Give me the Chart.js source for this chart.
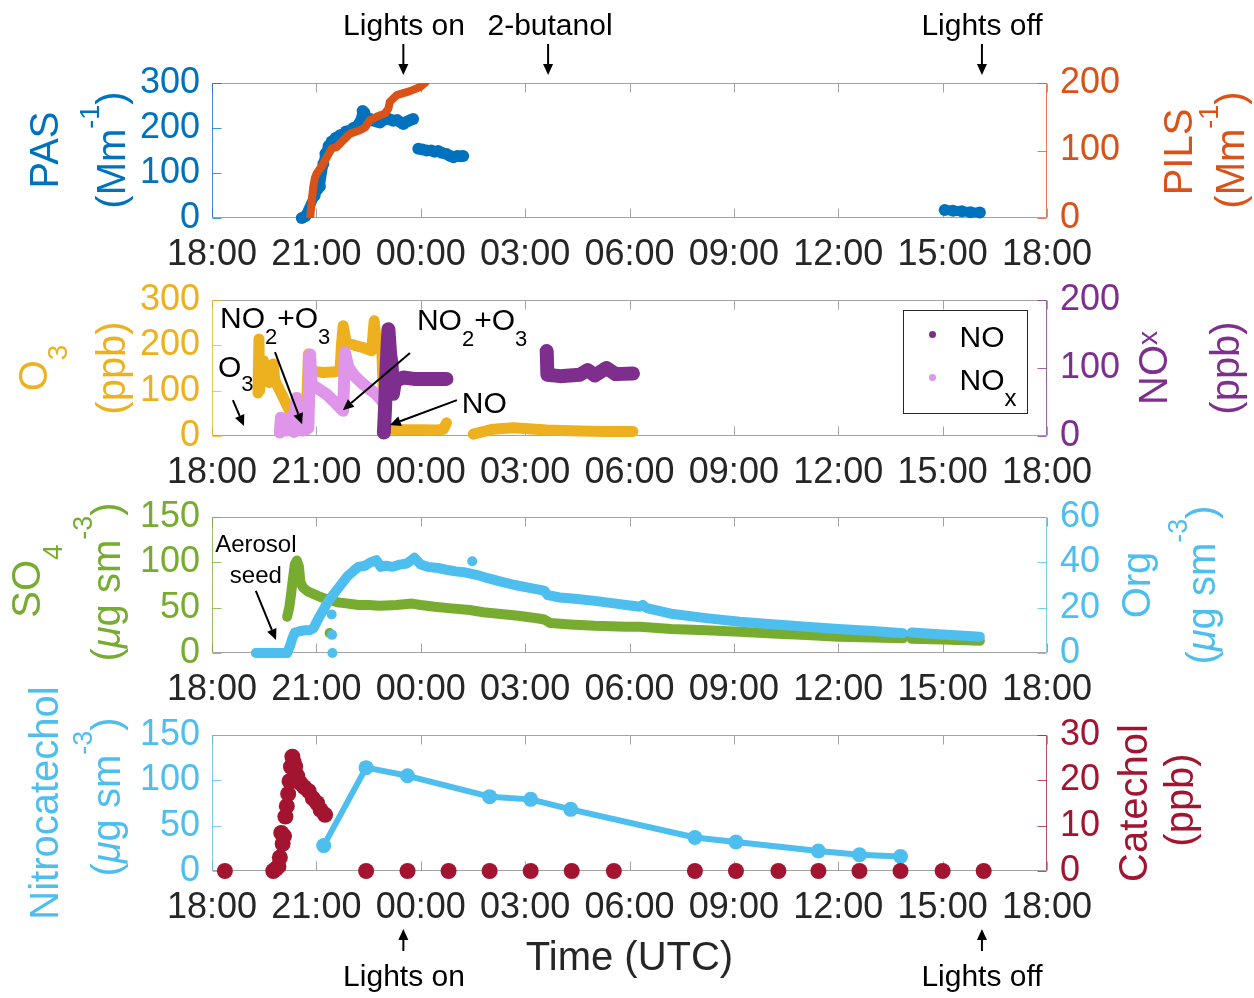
<!DOCTYPE html>
<html>
<head>
<meta charset="utf-8">
<script src="https://cdn.jsdelivr.net/npm/chart.js@4.4.1/dist/chart.umd.min.js"></script>
<style>
  html, body { margin: 0; padding: 0; background: #fff; }
  #wrap { position: relative; width: 1254px; height: 998px; overflow: hidden; }
  canvas { position: absolute; left: 0; top: 0; }
</style>
</head>
<body>
<div id="wrap">
  <canvas id="pas" width="1254" height="998"></canvas>
  <canvas id="gas" width="1254" height="998"></canvas>
  <canvas id="aero" width="1254" height="998"></canvas>
  <canvas id="cat" width="1254" height="998"></canvas>
</div>
<script>
"use strict";

const W = 1254, H = 998;
const FONT = "'Liberation Sans', Arial, Helvetica, sans-serif";
const INK = '#262626';
const BLUE = '#0072BD', ORANGE = '#D95319', YELLOW = '#EDB120', PURPLE = '#7E2F8E',
      PINK = '#DE95EA', GREEN = '#77AC30', CYAN = '#4DBEEE', RED = '#A2142F';

// hours after 18:00 UTC
const xTickLabels = ['18:00', '21:00', '00:00', '03:00', '06:00', '09:00', '12:00', '15:00', '18:00'];

// panel 1 : PAS (Mm-1) and PILS (Mm-1)
const pasHours = [2.58, 2.68, 2.95, 3.03, 3.10, 3.20, 3.26, 3.35, 3.44, 3.55, 3.68, 3.85, 4.06, 4.25, 4.33, 4.38, 4.45, 4.55, 4.64, 4.75, 4.83, 4.93, 5.02, 5.12, 5.21, 5.32, 5.42, 5.50, 5.60, 5.69, 5.78, 5.85, 5.93, 6.05, 6.17, 6.30, 6.40, 6.50, 6.60, 6.74, 6.85, 6.94, 7.05, 7.15, 7.22, 14, 21.06, 21.30, 21.55, 21.80, 22.07];
const pasValues = [0, 4, 50, 64, 70, 120, 143, 160, 170, 178, 184, 192, 200, 212, 238, 234, 222, 220, 216, 214, 212, 218, 222, 219, 216, 218, 213, 209, 214, 217, 220, null, 154, 152, 150, 150, 147, 149, 145, 142, 138, 135, 138, 137, 138, null, 18, 16, 15, 13, 12];
const pilsHours = [2.82, 2.86, 2.91, 2.96, 3.01, 3.10, 3.15, 3.30, 3.44, 3.58, 3.77, 3.97, 4.25, 4.40, 4.54, 4.73, 4.97, 5.07, 5.11, 5.31, 5.50, 5.69, 5.98, 6.12];
const pilsValues = [0, 21, 46, 60, 66, 73, 76, 90, 103, 105, 115, 125, 130, 134, 145, 150, 155, 162, 172, 182, 185, 188, 194, 200];

// panel 2 : O3, NO, NOx (ppb)
const o3Hours = [1.32, 1.35, 1.37, 1.40, 1.44, 1.48, 1.52, 1.58, 1.64, 1.70, 1.76, 1.80, 1.86, 1.95, 2.05, 2.15, 2.24, 2.33, 2.43, 2.55, 2.65, 2.72, 2.77, 2.86, 3.00, 3.20, 3.45, 3.68, 3.72, 3.77, 3.86, 4.10, 4.35, 4.59, 4.66, 4.73, 4.88, 4.92, 4.94, 5.11, 5.50, 6.00, 6.40, 6.65, 6.74, 7.00, 7.51, 8.08, 8.66, 9.62, 10.57, 11.30, 12.10];
const o3Values = [95, 214, 100, 160, 120, 166, 125, 150, 118, 140, 159, 125, 114, 100, 85, 68, 55, 68, 63, 56, 64, 63, 181, 144, 142, 140, 141, 144, 200, 243, 206, 200, 195, 188, 254, 203, 192, 100, 18, 15, 14, 14, 13, 15, 29, null, 4, 15, 18, 13, 11, 10, 10];
const noxHours = [1.95, 1.98, 2.02, 2.07, 2.12, 2.18, 2.24, 2.30, 2.36, 2.43, 2.48, 2.53, 2.60, 2.66, 2.72, 2.77, 2.82, 2.86, 3.01, 3.30, 3.58, 3.77, 3.82, 3.92, 4.10, 4.35, 4.55, 4.73, 4.88];
const noxValues = [5, 27, 10, 24, 8, 22, 14, 30, 6, 56, 12, 25, 8, 20, 10, 12, 120, 76, 71, 61, 47, 37, 123, 101, 88, 76, 68, 61, 52];
const noHours = [4.94, 4.97, 5.00, 5.04, 5.07, 5.12, 5.16, 5.20, 5.26, 5.50, 5.80, 6.26, 6.74, 8.00, 9.62, 9.64, 10.00, 10.57, 10.80, 11.00, 11.34, 11.60, 12.10];
const noValues = [5, 37, 76, 125, 157, 120, 106, 62, 81, 86, 84, 84, 84, null, 125, 90, 88, 90, 97, 89, 100, 91, 92];

// panel 3 : SO4 and Org (ug sm-3)
const so4Hours = [2.16, 2.22, 2.27, 2.32, 2.38, 2.44, 2.50, 2.54, 2.62, 2.75, 2.93, 3.10, 3.25, 3.44, 3.60, 3.80, 4.00, 4.21, 4.50, 4.80, 5.00, 5.30, 5.75, 6.00, 6.40, 6.80, 7.41, 7.80, 8.30, 8.80, 9.34, 9.55, 9.73, 10.30, 11.00, 11.90, 12.30, 13.20, 14.20, 15.17, 16.10, 17.09, 18.00, 18.99, 19.86, 19.98, 20.11, 21.00, 22.07];
const so4Values = [40, 50, 64, 80, 98, 102, 95, 78, 72, 68, 65, 62, 60, 58, 56, 55, 54, 53, 53, 52, 52.5, 53, 54.5, 53, 51, 49.5, 47.4, 45, 43, 41, 38.3, 37, 33, 31.5, 30, 29, 29, 26.5, 25, 23.5, 21.5, 19.8, 18, 17, 16.2, null, 15.8, 15, 13.5];
const so4DipHours = [3.38];
const so4DipValues = [22];
const orgHours = [1.26, 1.60, 2.00, 2.16, 2.24, 2.30, 2.38, 2.50, 2.65, 2.80, 2.92, 3.05, 3.20, 3.35, 3.50, 3.70, 3.90, 4.05, 4.21, 4.40, 4.55, 4.72, 4.85, 5.00, 5.20, 5.40, 5.60, 5.82, 6.00, 6.20, 6.50, 6.78, 7.00, 7.30, 7.60, 7.93, 8.30, 8.70, 9.20, 9.55, 9.65, 10.00, 10.50, 11.00, 11.50, 11.90, 12.30, 12.38, 12.50, 13.25, 14.20, 15.17, 16.10, 17.09, 18.00, 18.99, 19.86, 19.98, 20.11, 21.00, 22.07];
const orgValues = [0, 0, 0, 0, 3, 6, 9, 9.5, 10, 10, 11, 15, 19, 23, 26, 30, 34, 36, 38, 38.5, 40, 41, 38, 38.5, 38, 39, 39.5, 42, 39, 38, 37.5, 36.6, 36, 35.5, 34.5, 33, 31.5, 30, 28.5, 27.5, 25.5, 24.5, 23.8, 23, 22, 21.2, 20.4, 21.2, 19.8, 17.2, 15.4, 13.8, 12.7, 11.6, 10.6, 9.7, 8.7, null, 9.0, 8.2, 7.2];
const orgDipHours = [3.44, 3.45, 3.46, 7.48];
const orgDipValues = [17, 8, 0, 40.5];

// panel 4 : Nitrocatechol (ug sm-3) and Catechol (ppb)
const ncHours = [3.21, 4.43, 5.62, 7.98, 9.16, 10.31, 13.88, 15.06, 17.43, 18.61, 19.79];
const ncValues = [28, 114, 105, 82, 79, 68, 37, 32, 22, 18, 16];
const catHours = [0.37, 1.76, 1.84, 1.91, 1.95, 1.99, 2.03, 2.07, 2.11, 2.15, 2.19, 2.23, 2.27, 2.31, 2.35, 2.39, 2.45, 2.54, 2.65, 2.78, 2.90, 3.02, 3.12, 3.25, 4.43, 5.62, 6.80, 7.98, 9.16, 10.34, 11.55, 13.88, 15.06, 16.28, 17.43, 18.61, 19.79, 21.00, 22.18];
const catValues = [0, 0, 0.5, 1, 3, 8.4, 6, 7.7, 12, 14.3, 17, 19.8, 23, 25.2, 24, 23, 21, 19.4, 18.5, 17.6, 16, 15, 13.5, 12.4, 0, 0, 0, 0, 0, 0, 0, 0, 0, 0, 0, 0, 0, 0, 0];

// event markers (hours after 18:00)
const lightsOn = 5.5, butanol = 9.66, lightsOff = 22.13;

const pts = (hs, vs) => hs.map((h, i) => ({ x: h, y: vs[i] }));

function band(label, hs, vs, color, width, axis) {
  return {
    label, data: pts(hs, vs), yAxisID: axis, showLine: true,
    borderColor: color, backgroundColor: color, borderWidth: width,
    borderCapStyle: 'round', borderJoinStyle: 'round',
    pointRadius: 0, clip: false,
  };
}

function dots(label, hs, vs, color, r, axis) {
  return {
    label, data: pts(hs, vs), yAxisID: axis, showLine: false,
    pointBackgroundColor: color, pointBorderColor: color, pointBorderWidth: 0,
    pointRadius: r, clip: false,
  };
}

function richText(ctx, parts, x, y, o) {
  ctx.save();
  ctx.translate(x, y);
  if (o.rotate) ctx.rotate(-Math.PI / 2);
  ctx.fillStyle = o.color || '#000';
  ctx.textBaseline = 'alphabetic';
  ctx.textAlign = 'left';
  const fonts = parts.map(p => (p[3] ? 'italic ' : '') + p[1] + 'px ' + FONT);
  let w = 0;
  parts.forEach((p, i) => { ctx.font = fonts[i]; w += ctx.measureText(p[0]).width; });
  let cx = o.align === 'left' ? 0 : -w / 2;
  parts.forEach((p, i) => {
    ctx.font = fonts[i];
    ctx.fillText(p[0], cx, p[2] || 0);
    cx += ctx.measureText(p[0]).width;
  });
  ctx.restore();
}

function arrow(ctx, x1, y1, x2, y2) {
  const a = Math.atan2(y2 - y1, x2 - x1), hl = 11, hw = 5;
  ctx.save();
  ctx.strokeStyle = '#000';
  ctx.fillStyle = '#000';
  ctx.lineWidth = 2;
  ctx.beginPath();
  ctx.moveTo(x1, y1);
  ctx.lineTo(x2 - hl * Math.cos(a), y2 - hl * Math.sin(a));
  ctx.stroke();
  ctx.translate(x2, y2);
  ctx.rotate(a);
  ctx.beginPath();
  ctx.moveTo(0, 0);
  ctx.lineTo(-hl, -hw);
  ctx.lineTo(-hl, hw);
  ctx.closePath();
  ctx.fill();
  ctx.restore();
}

function at(chart, h, v) {
  return [chart.scales.x.getPixelForValue(h), chart.scales.y.getPixelForValue(v)];
}

function frame(chart, leftColor, rightColor) {
  const { ctx, chartArea: a, scales } = chart;
  const L = Math.round(a.left) + 0.5, R = Math.round(a.right) - 0.5;
  const T = Math.round(a.top) + 0.5, B = Math.round(a.bottom) - 0.5;
  ctx.save();
  ctx.lineWidth = 1;
  ctx.strokeStyle = '#a3a3a3';
  ctx.beginPath();
  ctx.moveTo(L, T); ctx.lineTo(R, T);
  ctx.moveTo(L, B); ctx.lineTo(R, B);
  scales.x.ticks.forEach(t => {
    const p = Math.round(scales.x.getPixelForValue(t.value)) + 0.5;
    ctx.moveTo(p, B); ctx.lineTo(p, B - 9);
    ctx.moveTo(p, T); ctx.lineTo(p, T + 9);
  });
  ctx.stroke();
  [[scales.y, L, 1, leftColor], [scales.y1, R, -1, rightColor]].forEach(([s, x, dir, col]) => {
    ctx.strokeStyle = col;
    ctx.globalAlpha = 0.75;
    ctx.beginPath();
    ctx.moveTo(x, T); ctx.lineTo(x, B);
    s.ticks.forEach(t => {
      const p = Math.round(s.getPixelForValue(t.value)) + 0.5;
      ctx.moveTo(x, p); ctx.lineTo(x + dir * 9, p);
    });
    ctx.stroke();
  });
  ctx.restore();
}

function panel(id, top, bottom, left, right, datasets, draw) {
  const tickFont = { family: FONT, size: 36 };
  return new Chart(document.getElementById(id), {
    type: 'scatter',
    data: { datasets },
    options: {
      responsive: false,
      animation: false,
      events: [],
      layout: { padding: { top, left: 0, right: 0, bottom: 0 }, autoPadding: false },
      plugins: { legend: { display: false }, tooltip: { enabled: false } },
      scales: {
        x: {
          type: 'linear', min: 0, max: 24,
          grid: { display: false }, border: { display: false },
          ticks: {
            stepSize: 3, autoSkip: false, maxRotation: 0, padding: 7,
            color: INK, font: tickFont,
            callback: v => xTickLabels[Math.round(v / 3)],
          },
          afterFit: s => { s.height = H - bottom; },
        },
        y: {
          position: 'left', min: 0, max: left.max,
          grid: { display: false }, border: { display: false },
          ticks: { stepSize: left.step, autoSkip: false, padding: 4, color: left.color, font: tickFont },
          afterFit: s => { s.width = 212; },
        },
        y1: {
          position: 'right', min: 0, max: right.max,
          grid: { display: false }, border: { display: false },
          ticks: { stepSize: right.step, autoSkip: false, padding: 5, color: right.color, font: tickFont },
          afterFit: s => { s.width = W - 1047; },
        },
      },
    },
    plugins: [{
      id: 'matlabFrame',
      beforeDatasetsDraw: c => frame(c, left.color, right.color),
      afterDraw: c => draw(c),
    }],
  });
}

const MM = [['(Mm', 40], ['-1', 27, -26], [')', 40]];
const UG = [['(', 40], ['\u03bc', 40, 0, true], ['g sm', 40], ['-3', 27, -28], [')', 40]];

// ---------- panel 1 ----------
panel('pas', 83, 218,
  { max: 300, step: 100, color: BLUE }, { max: 200, step: 100, color: ORANGE },
  [
    Object.assign(band('PILS', pilsHours, pilsValues, ORANGE, 8, 'y1'), { clip: 0 }),
    Object.assign(band('PAS', pasHours, pasValues, BLUE, 10, 'y'), { pointRadius: 6, pointBorderWidth: 0 }),
  ],
  c => {
    const ctx = c.ctx;
    richText(ctx, [['PAS', 40]], 58, 150, { color: BLUE, rotate: true });
    richText(ctx, MM, 125, 150, { color: BLUE, rotate: true });
    richText(ctx, [['PILS', 40]], 1192, 152, { color: ORANGE, rotate: true });
    richText(ctx, MM, 1244, 150, { color: ORANGE, rotate: true });
    [[lightsOn, 'Lights on', 404], [butanol, '2-butanol', 550], [lightsOff, 'Lights off', 982]].forEach(([h, txt, cx]) => {
      richText(ctx, [[txt, 30]], cx, 35, { color: '#000' });
      const x = c.scales.x.getPixelForValue(h);
      arrow(ctx, x, 44, x, 75);
    });
  });

// ---------- panel 2 ----------
panel('gas', 300, 436,
  { max: 300, step: 100, color: YELLOW }, { max: 200, step: 100, color: PURPLE },
  [
    band('NO', noHours, noValues, PURPLE, 14, 'y1'),
    band('NOx', noxHours, noxValues, PINK, 12, 'y1'),
    band('O3', o3Hours, o3Values, YELLOW, 11, 'y'),
  ],
  c => {
    const ctx = c.ctx;
    richText(ctx, [['O', 40], ['3', 28, 20]], 47, 368, { color: YELLOW, rotate: true });
    richText(ctx, [['(ppb)', 40]], 125, 368, { color: YELLOW, rotate: true });
    richText(ctx, [['NO', 40], ['x', 28, -10]], 1167, 368, { color: PURPLE, rotate: true });
    richText(ctx, [['(ppb)', 40]], 1239, 368, { color: PURPLE, rotate: true });

    const no2o3 = [['NO', 30], ['2', 22, 16], ['+O', 30], ['3', 22, 16]];
    let p = at(c, 0.23, 238);
    richText(ctx, no2o3, p[0], p[1], { align: 'left' });
    p = at(c, 5.89, 234);
    richText(ctx, no2o3, p[0], p[1], { align: 'left' });
    p = at(c, 0.17, 130);
    richText(ctx, [['O', 30], ['3', 22, 14]], p[0], p[1], { align: 'left' });
    p = at(c, 7.18, 51);
    richText(ctx, [['NO', 30]], p[0], p[1], { align: 'left' });
    [[1.81, 185, 2.59, 26], [0.60, 79, 0.92, 22], [5.69, 183, 3.76, 57], [7.04, 79, 5.11, 24]].forEach(([h1, v1, h2, v2]) => {
      const a = at(c, h1, v1), b = at(c, h2, v2);
      arrow(ctx, a[0], a[1], b[0], b[1]);
    });

    // legend
    const a = c.chartArea;
    const bx = Math.round(a.right) - 143.5, by = Math.round(a.top) + 10.5;
    ctx.save();
    ctx.fillStyle = '#fff';
    ctx.fillRect(bx, by, 124, 103);
    ctx.strokeStyle = INK;
    ctx.lineWidth = 1;
    ctx.strokeRect(bx, by, 124, 103);
    ctx.fillStyle = PURPLE;
    ctx.beginPath(); ctx.arc(bx + 29, by + 24, 3.5, 0, Math.PI * 2); ctx.fill();
    ctx.fillStyle = PINK;
    ctx.beginPath(); ctx.arc(bx + 29, by + 67, 3.5, 0, Math.PI * 2); ctx.fill();
    ctx.restore();
    richText(ctx, [['NO', 30]], bx + 56, by + 36, { align: 'left' });
    richText(ctx, [['NO', 30], ['x', 24, 16]], bx + 56, by + 79, { align: 'left' });
  });

// ---------- panel 3 ----------
panel('aero', 517, 653,
  { max: 150, step: 50, color: GREEN }, { max: 60, step: 20, color: CYAN },
  [
    dots('Org spikes', orgDipHours, orgDipValues, CYAN, 5, 'y1'),
    band('Org', orgHours, orgValues, CYAN, 10, 'y1'),
    dots('SO4 spikes', so4DipHours, so4DipValues, GREEN, 5, 'y'),
    band('SO4', so4Hours, so4Values, GREEN, 10, 'y'),
  ],
  c => {
    const ctx = c.ctx;
    richText(ctx, [['SO', 40], ['4', 28, 22]], 40, 581, { color: GREEN, rotate: true });
    richText(ctx, UG, 120, 582, { color: GREEN, rotate: true });
    richText(ctx, [['Org', 40]], 1150, 585, { color: CYAN, rotate: true });
    richText(ctx, UG, 1215, 585, { color: CYAN, rotate: true });
    let p = at(c, 1.26, 111.4);
    richText(ctx, [['Aerosol', 24]], p[0], p[1], {});
    p = at(c, 1.26, 77.2);
    richText(ctx, [['seed', 24]], p[0], p[1], {});
    const a = at(c, 1.26, 68.4), b = at(c, 1.84, 14.3);
    arrow(ctx, a[0], a[1], b[0], b[1]);
  });

// ---------- panel 4 ----------
panel('cat', 735, 871,
  { max: 150, step: 50, color: CYAN }, { max: 30, step: 10, color: RED },
  [
    dots('Catechol', catHours, catValues, RED, 8, 'y1'),
    Object.assign(band('Nitrocatechol', ncHours, ncValues, CYAN, 6, 'y'), { pointRadius: 7.5, pointBorderWidth: 0 }),
  ],
  c => {
    const ctx = c.ctx;
    richText(ctx, [['Nitrocatechol', 40]], 58, 803, { color: CYAN, rotate: true });
    richText(ctx, UG, 120, 797, { color: CYAN, rotate: true });
    richText(ctx, [['Catechol', 40]], 1147, 803, { color: RED, rotate: true });
    richText(ctx, [['(ppb)', 40]], 1193, 800, { color: RED, rotate: true });
    richText(ctx, [['Time (UTC)', 40]], (c.chartArea.left + c.chartArea.right) / 2, 970, { color: INK });
    [[lightsOn, 'Lights on', 404], [lightsOff, 'Lights off', 982]].forEach(([h, txt, cx]) => {
      const x = c.scales.x.getPixelForValue(h);
      arrow(ctx, x, 951, x, 929);
      richText(ctx, [[txt, 30]], cx, 986, { color: '#000' });
    });
  });
</script>
</body>
</html>
